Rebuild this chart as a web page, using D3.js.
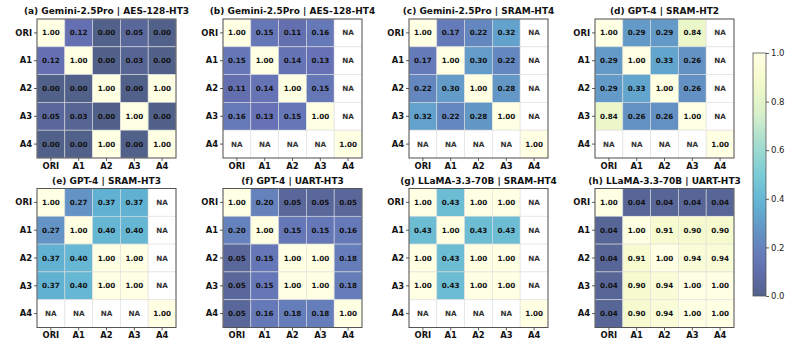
<!DOCTYPE html>
<meta charset="utf-8">
<style>
body {
  margin: 0;
  background: #fff;
}
text {
  font-family: "DejaVu Sans", sans-serif;
}
.title {
  font-size: 9px;
  font-weight: bold;
}
.tick text {
  font-size: 8.4px;
  font-weight: bold;
}
.cell-label {
  font-size: 7.2px;
  font-weight: bold;
}
.cbar .tick text {
  font-size: 8.5px;
  font-weight: normal;
  fill: #222;
}
</style>
<body>
<script src="https://d3js.org/d3.v7.min.js"></script>
<script>

var width = 793,
    height = 347;

// tick labels (same on both axes)
var labels = ["ORI", "A1", "A2", "A3", "A4"];

var titles = [
  "(a) Gemini-2.5Pro | AES-128-HT3",
  "(b) Gemini-2.5Pro | AES-128-HT4",
  "(c) Gemini-2.5Pro | SRAM-HT4",
  "(d) GPT-4 | SRAM-HT2",
  "(e) GPT-4 | SRAM-HT3",
  "(f) GPT-4 | UART-HT3",
  "(g) LLaMA-3.3-70B | SRAM-HT4",
  "(h) LLaMA-3.3-70B | UART-HT3"
];

var NA = null;

var gemAes3 = [
  [1.00, 0.12, 0.00, 0.05, 0.00],
  [0.12, 1.00, 0.00, 0.03, 0.00],
  [0.00, 0.00, 1.00, 0.00, 1.00],
  [0.05, 0.03, 0.00, 1.00, 0.00],
  [0.00, 0.00, 1.00, 0.00, 1.00]
];
var gemAes4 = [
  [1.00, 0.15, 0.11, 0.16, NA],
  [0.15, 1.00, 0.14, 0.13, NA],
  [0.11, 0.14, 1.00, 0.15, NA],
  [0.16, 0.13, 0.15, 1.00, NA],
  [NA, NA, NA, NA, 1.00]
];
var gemSram4 = [
  [1.00, 0.17, 0.22, 0.32, NA],
  [0.17, 1.00, 0.30, 0.22, NA],
  [0.22, 0.30, 1.00, 0.28, NA],
  [0.32, 0.22, 0.28, 1.00, NA],
  [NA, NA, NA, NA, 1.00]
];
var gptSram2 = [
  [1.00, 0.29, 0.29, 0.84, NA],
  [0.29, 1.00, 0.33, 0.26, NA],
  [0.29, 0.33, 1.00, 0.26, NA],
  [0.84, 0.26, 0.26, 1.00, NA],
  [NA, NA, NA, NA, 1.00]
];
var gptSram3 = [
  [1.00, 0.27, 0.37, 0.37, NA],
  [0.27, 1.00, 0.40, 0.40, NA],
  [0.37, 0.40, 1.00, 1.00, NA],
  [0.37, 0.40, 1.00, 1.00, NA],
  [NA, NA, NA, NA, 1.00]
];
var gptUart3 = [
  [1.00, 0.20, 0.05, 0.05, 0.05],
  [0.20, 1.00, 0.15, 0.15, 0.16],
  [0.05, 0.15, 1.00, 1.00, 0.18],
  [0.05, 0.15, 1.00, 1.00, 0.18],
  [0.05, 0.16, 0.18, 0.18, 1.00]
];
var llamaSram4 = [
  [1.00, 0.43, 1.00, 1.00, NA],
  [0.43, 1.00, 0.43, 0.43, NA],
  [1.00, 0.43, 1.00, 1.00, NA],
  [1.00, 0.43, 1.00, 1.00, NA],
  [NA, NA, NA, NA, 1.00]
];
var llamaUart3 = [
  [1.00, 0.04, 0.04, 0.04, 0.04],
  [0.04, 1.00, 0.91, 0.90, 0.90],
  [0.04, 0.91, 1.00, 0.94, 0.94],
  [0.04, 0.90, 0.94, 1.00, 1.00],
  [0.04, 0.90, 0.94, 1.00, 1.00]
];

var matrices = [gemAes3, gemAes4, gemSram4, gptSram2,
                gptSram3, gptUart3, llamaSram4, llamaUart3];

var cbarTicks = [0.0, 0.2, 0.4, 0.6, 0.8, 1.0];

// YlGnBu reversed, drawn at alpha .7 over white
var brewer = ["#081d58", "#253494", "#225ea8", "#1d91c0", "#41b6c4",
              "#7fcdbb", "#c7e9b4", "#edf8b1", "#ffffd9"];
var faded = brewer.map(function(c) {
  return d3.interpolateRgb("#fff", c)(0.7);
});
var color = d3.scaleLinear()
    .domain(d3.range(9).map(function(i) { return i / 8; }))
    .range(faded)
    .interpolate(d3.interpolateRgb);

var svg = d3.select("body").append("svg")
    .attr("width", width)
    .attr("height", height);

var size = 139;
var colX = [37, 223, 409, 595],
    rowY = [19, 188.5];

matrices.forEach(function(m, k) {
  var gx = colX[k % 4], gy = rowY[Math.floor(k / 4)];
  var g = svg.append("g").attr("transform", "translate(" + gx + "," + gy + ")");

  var x = d3.scaleBand().domain(labels).range([0, size]);
  var y = d3.scaleBand().domain(labels).range([0, size]);

  var cells = [];
  m.forEach(function(row, i) {
    row.forEach(function(v, j) {
      cells.push({r: labels[i], c: labels[j], v: v});
    });
  });

  g.selectAll(".cell")
      .data(cells)
    .enter().append("rect")
      .attr("class", "cell")
      .attr("x", function(d) { return x(d.c); })
      .attr("y", function(d) { return y(d.r); })
      .attr("width", x.bandwidth())
      .attr("height", y.bandwidth())
      .attr("fill", function(d) { return d.v === null ? "#fff" : color(d.v); })
      .attr("stroke", "#ddd")
      .attr("stroke-opacity", 0.8)
      .attr("stroke-width", 0.7);

  g.selectAll(".cell-label")
      .data(cells)
    .enter().append("text")
      .attr("class", "cell-label")
      .attr("x", function(d) { return x(d.c) + x.bandwidth() / 2; })
      .attr("y", function(d) { return y(d.r) + y.bandwidth() / 2; })
      .attr("dy", "0.35em")
      .attr("text-anchor", "middle")
      .attr("fill", function(d) { return d.v === null ? "#333" : "#111"; })
      .text(function(d) { return d.v === null ? "NA" : d.v.toFixed(2); });

  g.append("rect")
      .attr("width", size)
      .attr("height", size)
      .attr("fill", "none")
      .attr("stroke", "#555")
      .attr("stroke-width", 1);

  var xAxis = g.append("g")
      .attr("transform", "translate(0," + size + ")")
      .call(d3.axisBottom(x).tickSize(3).tickPadding(2));
  var yAxis = g.append("g")
      .call(d3.axisLeft(y).tickSize(3).tickPadding(2));
  [xAxis, yAxis].forEach(function(a) {
    a.select(".domain").remove();
    a.selectAll("line").attr("stroke", "#333").attr("stroke-width", 0.8);
    a.selectAll("text").attr("fill", "#111").style("font-family", "DejaVu Sans");
  });

  g.append("text")
      .attr("class", "title")
      .attr("x", size / 2)
      .attr("y", -5)
      .attr("text-anchor", "middle")
      .attr("fill", "#111")
      .text(titles[k]);
});

// colorbar
var cbX = 753, cbY = 53, cbW = 13, cbH = 243;
var defs = svg.append("defs");
var grad = defs.append("linearGradient")
    .attr("id", "cbar-grad")
    .attr("x1", 0).attr("y1", 1).attr("x2", 0).attr("y2", 0);
d3.range(0, 1.0001, 0.05).forEach(function(t) {
  grad.append("stop")
      .attr("offset", t)
      .attr("stop-color", color(t));
});

var cb = svg.append("g")
    .attr("class", "cbar")
    .attr("transform", "translate(" + cbX + "," + cbY + ")");

cb.append("rect")
    .attr("width", cbW)
    .attr("height", cbH)
    .attr("fill", "url(#cbar-grad)")
    .attr("stroke", "#555")
    .attr("stroke-width", 0.8);

var cbScale = d3.scaleLinear().domain([0, 1]).range([cbH, 0]);
var cbAxis = cb.append("g")
    .attr("transform", "translate(" + cbW + ",0)")
    .call(d3.axisRight(cbScale).tickValues(cbarTicks).tickFormat(d3.format(".1f")).tickSize(3).tickPadding(2));
cbAxis.select(".domain").remove();
cbAxis.selectAll("line").attr("stroke", "#333").attr("stroke-width", 0.8);
cbAxis.selectAll("text").style("font-family", "DejaVu Sans");

</script>
